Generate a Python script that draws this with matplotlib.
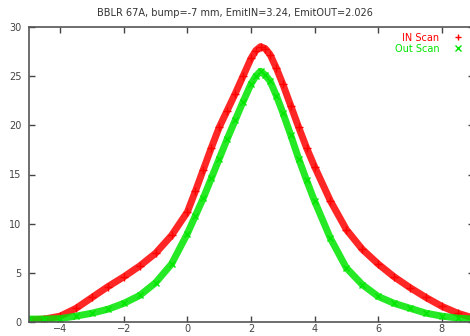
import matplotlib
matplotlib.use("Agg")
import matplotlib.pyplot as plt
from matplotlib.lines import Line2D

# values
title = "BBLR 67A, bump=-7 mm, EmitIN=3.24, EmitOUT=2.026"

in_x = [-5.0, -4.5, -4.0, -3.5, -3.0, -2.5, -2.0, -1.5, -1.0, -0.5, 0.0, 0.25, 0.5,
        0.75, 1.0, 1.25, 1.5, 1.75, 2.0, 2.15, 2.3, 2.45, 2.6, 2.8, 3.0, 3.25, 3.5,
        3.75, 4.0, 4.5, 5.0, 5.5, 6.0, 6.5, 7.0, 7.5, 8.0, 8.5, 9.0]
in_y = [0.2, 0.3, 0.6, 1.4, 2.5, 3.6, 4.6, 5.7, 7.0, 8.8, 11.2, 13.3, 15.5,
        17.7, 19.8, 21.5, 23.2, 25.0, 26.8, 27.6, 28.0, 27.8, 27.2, 25.8, 24.2, 22.0, 19.8,
        17.7, 15.8, 12.3, 9.4, 7.4, 5.9, 4.6, 3.5, 2.5, 1.6, 0.9, 0.4]

out_x = [-5.0, -4.5, -4.0, -3.5, -3.0, -2.5, -2.0, -1.5, -1.0, -0.5, 0.0, 0.25, 0.5,
         0.75, 1.0, 1.25, 1.5, 1.75, 2.0, 2.15, 2.3, 2.45, 2.6, 2.8, 3.0, 3.25, 3.5,
         3.75, 4.0, 4.5, 5.0, 5.5, 6.0, 6.5, 7.0, 7.5, 8.0, 8.5, 9.0]
out_y = [0.3, 0.3, 0.35, 0.6, 0.9, 1.3, 1.9, 2.7, 4.0, 5.9, 9.0, 10.8, 12.6,
         14.6, 16.6, 18.6, 20.5, 22.4, 24.2, 25.0, 25.5, 25.1, 24.5, 23.0, 21.3, 19.0, 16.6,
         14.4, 12.3, 8.5, 5.5, 3.8, 2.6, 1.9, 1.4, 0.9, 0.6, 0.4, 0.3]

in_color = "#ff0000"
out_color = "#00e600"

fig = plt.figure(figsize=(4.7, 3.36), dpi=100)
ax = fig.add_axes([28.5 / 470, 14 / 336, 445 / 470, 295 / 336])

# IN scan (red +), then OUT scan (green x) on top
ax.plot(in_x, in_y, color=in_color, lw=5, alpha=0.85, solid_capstyle="round")
ax.plot(in_x, in_y, ls="none", marker="+", ms=6, mew=1, color=in_color)
ax.plot(out_x, out_y, color=out_color, lw=5, alpha=0.85, solid_capstyle="round")
ax.plot(out_x, out_y, ls="none", marker="x", ms=5, mew=1, color=out_color)

ax.set_xlim(-5, 9)
ax.set_ylim(0, 30)
ax.set_xticks([-4, -2, 0, 2, 4, 6, 8])
ax.set_yticks([0, 5, 10, 15, 20, 25, 30])
ax.tick_params(direction="in", length=4, width=1, top=True, right=True,
               labelsize=7, colors="#444444")
ax.tick_params(axis="x", pad=1.5)
ax.tick_params(axis="y", pad=5)
for s in ax.spines.values():
    s.set_color("#555555")
    s.set_linewidth(1.2)

fig.text(0.5, 1 - 13 / 336, title, ha="center", va="center", fontsize=7, color="#333333")

handles = [Line2D([], [], ls="none", marker="+", ms=5, mew=1, color=in_color),
           Line2D([], [], ls="none", marker="x", ms=4, mew=1, color=out_color)]
ax.legend(handles, ["IN Scan", "Out Scan"], loc="upper right", frameon=False,
          markerfirst=False, fontsize=7, labelcolor=[in_color, out_color],
          handlelength=1.5, handletextpad=1.2, labelspacing=0.1,
          borderaxespad=0.2, bbox_to_anchor=(0.995, 1.0))

fig.savefig("out.png", dpi=100)
